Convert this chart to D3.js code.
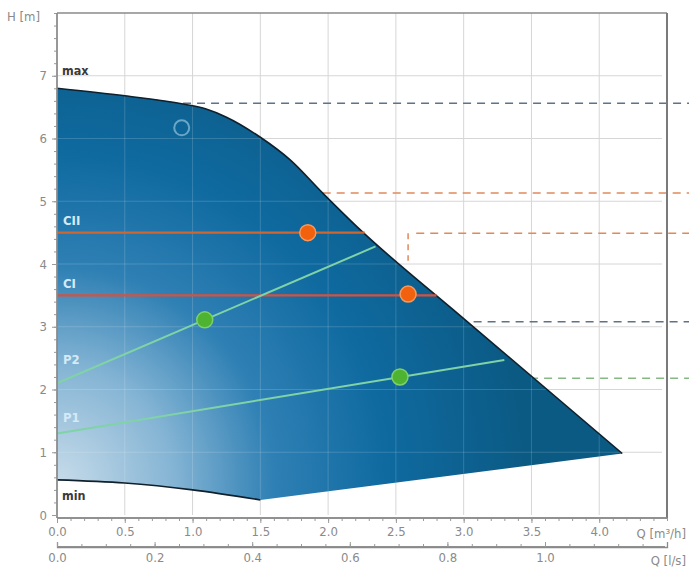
<!DOCTYPE html>
<html><head><meta charset="utf-8">
<script src="https://cdn.jsdelivr.net/npm/d3@7"></script>
<style>body{margin:0;background:#fff}svg{display:block}</style>
</head><body>
<svg id="c" width="689" height="576"></svg>
<script>
// ---- data ----
const maxCurveQ = [0, 0.5, 0.93, 1.1, 1.25, 1.5, 1.72, 1.96, 2.21, 3.0, 4.17];
const maxCurveH = [6.8, 6.68, 6.55, 6.47, 6.34, 6.02, 5.66, 5.13, 4.6, 3.13, 0.98];
const minCurveQ = [0, 0.5, 1.0, 1.5];
const minCurveH = [0.56, 0.51, 0.40, 0.24];
const ctrlNames = ["CII", "CI"];
const ctrlH = [4.5, 3.5];
const ctrlQend = [2.27, 2.8];
const propNames = ["P2", "P1"];
const propQ = [[0, 2.35], [0, 3.3]];
const propH = [[2.1, 4.28], [1.3, 2.47]];
const orangePtsQ = [1.85, 2.59];
const orangePtsH = [4.5, 3.52];
const greenPtsQ = [1.09, 2.53];
const greenPtsH = [3.11, 2.2];
const openPtQ = [0.92];
const openPtH = [6.17];
const dashH = [6.56, 5.13, 4.49, 3.08, 2.18];
const dashQstart = [0.93, 1.96, 2.65, 2.97, 3.49];
const dashKind = ["blue", "orange", "orange", "blue", "green"];
const yTicks = [0, 1, 2, 3, 4, 5, 6, 7];
const xTicks = [0, 0.5, 1.0, 1.5, 2.0, 2.5, 3.0, 3.5, 4.0];
const lsTicks = [0, 0.2, 0.4, 0.6, 0.8, 1.0];

// ---- setup ----
const svg = d3.select("#c");
const W = 689;
const x = d3.scaleLinear().domain([0, 4.5]).range([57, 667]);
const y = d3.scaleLinear().domain([0, 8]).range([515, 13]);
const xl = d3.scaleLinear().domain([0, 4.5 / 3.6]).range([57, 667]);
const font = "'DejaVu Sans Condensed','Liberation Sans Narrow','DejaVu Sans',sans-serif";
const dashColor = {blue: "#5d7388", orange: "#e0895c", green: "#86b883"};

const defs = svg.append("defs");
const grad = defs.append("radialGradient").attr("id", "g")
  .attr("gradientUnits", "userSpaceOnUse")
  .attr("cx", x(0)).attr("cy", y(0.5)).attr("r", 470);
[[0, "#c8dcea"], [0.25, "#84b4d4"], [0.46, "#2f80b4"], [0.7, "#0f6aa0"], [1, "#0b5a84"]]
  .forEach(([o, c]) => grad.append("stop").attr("offset", o).attr("stop-color", c));

const maxPts = maxCurveQ.map((q, i) => [x(q), y(maxCurveH[i])]);
const minPts = minCurveQ.map((q, i) => [x(q), y(minCurveH[i])]);
const lineMono = d3.line().curve(d3.curveMonotoneX);
const lineCR = d3.line().curve(d3.curveCatmullRom);
const topD = lineMono(maxPts);
const minRevD = lineCR(minPts.slice().reverse());
const areaD = topD + minRevD.replace(/^M/, "L") + "Z";

defs.append("clipPath").attr("id", "clipA").append("path").attr("d", areaD);

// ---- gray grid ----
const grid = svg.append("g");
xTicks.filter(v => v > 0).forEach(v => grid.append("line")
  .attr("x1", x(v)).attr("x2", x(v)).attr("y1", y(8)).attr("y2", y(0))
  .attr("stroke", "#d6d6d6").attr("stroke-width", 1));
yTicks.filter(v => v > 0).forEach(v => grid.append("line")
  .attr("x1", x(0)).attr("x2", 662).attr("y1", y(v)).attr("y2", y(v))
  .attr("stroke", "#d6d6d6").attr("stroke-width", 1));

// ---- dashed reference lines ----
dashH.forEach((h, i) => {
  svg.append("line").attr("x1", x(dashQstart[i])).attr("x2", W)
    .attr("y1", y(h)).attr("y2", y(h))
    .attr("stroke", dashColor[dashKind[i]]).attr("stroke-width", 1.5)
    .attr("stroke-dasharray", "8,6");
});
svg.append("line").attr("x1", x(2.59)).attr("x2", x(2.59))
  .attr("y1", y(4.49)).attr("y2", y(4.05))
  .attr("stroke", dashColor.orange).attr("stroke-width", 1.5).attr("stroke-dasharray", "6,5");

// ---- pump area ----
svg.append("path").attr("d", areaD).attr("fill", "url(#g)");
const igrid = svg.append("g").attr("clip-path", "url(#clipA)");
xTicks.filter(v => v > 0).forEach(v => igrid.append("line")
  .attr("x1", x(v)).attr("x2", x(v)).attr("y1", y(8)).attr("y2", y(0))
  .attr("stroke", "#ffffff").attr("stroke-opacity", 0.16));
yTicks.filter(v => v > 0).forEach(v => igrid.append("line")
  .attr("x1", x(0)).attr("x2", 662).attr("y1", y(v)).attr("y2", y(v))
  .attr("stroke", "#ffffff").attr("stroke-opacity", 0.16));
svg.append("path").attr("d", topD).attr("fill", "none").attr("stroke", "#10202c").attr("stroke-width", 1.6);
svg.append("path").attr("d", lineCR(minPts)).attr("fill", "none").attr("stroke", "#10202c").attr("stroke-width", 1.6);

// ---- control lines ----
const ctrlColor = ["#d2662f", "#d9503c"];
ctrlH.forEach((h, i) => svg.append("line")
  .attr("x1", x(0)).attr("x2", x(ctrlQend[i])).attr("y1", y(h)).attr("y2", y(h))
  .attr("stroke", ctrlColor[i]).attr("stroke-width", 2.4));
propQ.forEach((qs, i) => svg.append("line")
  .attr("x1", x(qs[0])).attr("x2", x(qs[1])).attr("y1", y(propH[i][0])).attr("y2", y(propH[i][1]))
  .attr("stroke", "#7fd3a6").attr("stroke-width", 2));

// ---- markers ----
orangePtsQ.forEach((q, i) => svg.append("circle").attr("cx", x(q)).attr("cy", y(orangePtsH[i])).attr("r", 8)
  .attr("fill", "#f2620e").attr("stroke", "#f59a5e").attr("stroke-width", 1.5));
greenPtsQ.forEach((q, i) => svg.append("circle").attr("cx", x(q)).attr("cy", y(greenPtsH[i])).attr("r", 8)
  .attr("fill", "#4db331").attr("stroke", "#7fd06a").attr("stroke-width", 1.5));
openPtQ.forEach((q, i) => svg.append("circle").attr("cx", x(q)).attr("cy", y(openPtH[i])).attr("r", 7.5)
  .attr("fill", "none").attr("stroke", "#6aa6c8").attr("stroke-width", 2));

// ---- labels inside ----
const lblY = [225, 288];
ctrlNames.forEach((n, i) => svg.append("text").attr("x", 63).attr("y", lblY[i]).text(n)
  .attr("fill", "#d4eaf7").attr("font-family", font).attr("font-weight", "bold").attr("font-size", 13));
const plY = [364, 422];
propNames.forEach((n, i) => svg.append("text").attr("x", 63).attr("y", plY[i]).text(n)
  .attr("fill", "#d4eaf7").attr("font-family", font).attr("font-weight", "bold").attr("font-size", 13));
svg.append("text").attr("x", 62).attr("y", 75).text("max").attr("fill", "#3a3a3a")
  .attr("font-family", font).attr("font-weight", "bold").attr("font-size", 12.5);
svg.append("text").attr("x", 62).attr("y", 500).text("min").attr("fill", "#3a3a3a")
  .attr("font-family", font).attr("font-weight", "bold").attr("font-size", 12.5);

// ---- frame ----
svg.append("line").attr("x1", x(0)).attr("x2", 667).attr("y1", y(8)).attr("y2", y(8)).attr("stroke", "#8a8a8a").attr("stroke-width", 1.5);
svg.append("line").attr("x1", 667).attr("x2", 667).attr("y1", y(8)).attr("y2", 518).attr("stroke", "#7a7a7a").attr("stroke-width", 2);

// ---- axes ----
const axStyle = g => {
  g.selectAll("path.domain").attr("stroke", "#8a8a8a").attr("stroke-width", 1.3);
  g.selectAll(".tick line").attr("stroke", "#9a9a9a");
  g.selectAll("text").attr("fill", "#8a8a8a").attr("font-family", font).attr("font-size", 13);
};
const yMinor = d3.range(0, 8.01, 0.2);
const ya = svg.append("g").attr("transform", `translate(${x(0)},0)`)
  .call(d3.axisLeft(y).tickValues(yMinor).tickSize(3).tickFormat(""));
const yb = svg.append("g").attr("transform", `translate(${x(0)},0)`)
  .call(d3.axisLeft(y).tickValues(yTicks).tickSize(5).tickPadding(5).tickFormat(d3.format("d")));
axStyle(ya); axStyle(yb);
ya.select("path.domain").attr("d", `M0,${y(8)}V518`);
yb.select("path.domain").attr("d", `M0,${y(8)}V518`);

const xMinor = d3.range(0, 4.51, 0.1);
const xa = svg.append("g").attr("transform", "translate(0,518)")
  .call(d3.axisBottom(x).tickValues(xMinor).tickSize(3).tickFormat(""));
const xb = svg.append("g").attr("transform", "translate(0,518)")
  .call(d3.axisBottom(x).tickValues(xTicks).tickSize(5).tickPadding(4).tickFormat(d3.format(".1f")));
axStyle(xa); axStyle(xb);
[xa, xb].forEach(g => g.select("path.domain").attr("d", `M${x(0)},0H667`));

const lsMinor = d3.range(0, 1.25, 0.05);
const la = svg.append("g").attr("transform", "translate(0,547)")
  .call(d3.axisTop(xl).tickValues(lsMinor).tickSize(3).tickFormat(""));
const lb = svg.append("g").attr("transform", "translate(0,547)")
  .call(d3.axisBottom(xl).tickValues(lsTicks).tickSize(0).tickPadding(6).tickFormat(d3.format(".1f")));
axStyle(la); axStyle(lb);
svg.append("g").attr("transform", "translate(0,547)")
  .call(d3.axisTop(xl).tickValues(lsTicks).tickSize(5).tickFormat(""))
  .call(axStyle);
[la, lb].forEach(g => g.select("path.domain").attr("d", `M${x(0)},0H665`));

// axis titles
const title = (tx, ty, t, anchor) => svg.append("text").attr("x", tx).attr("y", ty).text(t)
  .attr("text-anchor", anchor).attr("fill", "#8a8a8a").attr("font-family", font).attr("font-size", 13);
title(7, 21, "H [m]", "start");
title(686, 538, "Q [m³/h]", "end");
title(686, 565, "Q [l/s]", "end");
</script>
</body></html>
